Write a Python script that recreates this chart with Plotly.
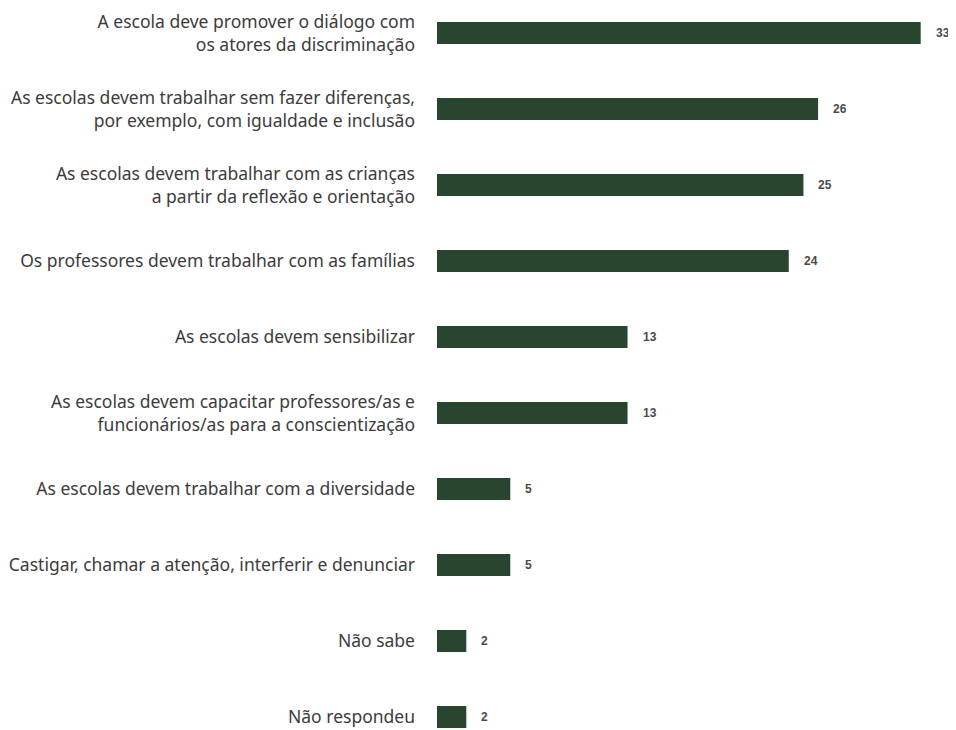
import plotly.graph_objects as go

categories = [
    'A escola deve promover o diálogo com<br>os atores da discriminação',
    'As escolas devem trabalhar sem fazer diferenças,<br>por exemplo, com igualdade e inclusão',
    'As escolas devem trabalhar com as crianças<br>a partir da reflexão e orientação',
    'Os professores devem trabalhar com as famílias',
    'As escolas devem sensibilizar',
    'As escolas devem capacitar professores/as e<br>funcionários/as para a conscientização',
    'As escolas devem trabalhar com a diversidade',
    'Castigar, chamar a atenção, interferir e denunciar',
    'Não sabe',
    'Não respondeu',
]
values = [33, 26, 25, 24, 13, 13, 5, 5, 2, 2]

bar_color = '#27452f'

fig = go.Figure(go.Bar(
    x=values,
    y=categories,
    orientation='h',
    marker=dict(color=bar_color, line=dict(width=0)),
    width=0.29,
))

# value labels just right of each bar
for cat, v in zip(categories, values):
    fig.add_annotation(
        x=v, y=cat, text='<b>%d</b>' % v, showarrow=False,
        xanchor='left', xshift=13,
        font=dict(family='Liberation Sans, Arial', size=12, color='#4a4a4a'),
    )

# the page body adds an 8px offset, so margins are set 8px short
fig.update_layout(
    width=956, height=730,
    margin=dict(l=429, r=14, t=0, b=0),
    plot_bgcolor='white', paper_bgcolor='white',
    showlegend=False,
    font=dict(family='Noto Sans, sans-serif', size=17.5, color='#3c3c3c'),
    xaxis=dict(range=[0, 35], visible=False),
    yaxis=dict(
        type='category',
        range=[9.276, -0.329],
        showgrid=False, showline=False, ticks='',
        ticklabelstandoff=21,
        automargin=False,
        tickfont=dict(size=17.5, color='#3c3c3c'),
    ),
)

fig.write_html('out.html')
